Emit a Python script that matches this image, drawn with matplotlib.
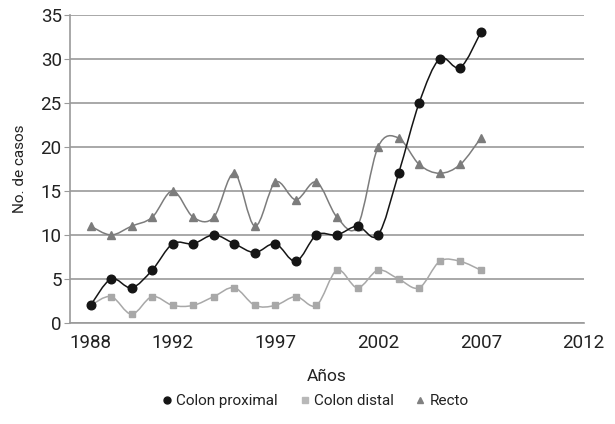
import matplotlib.pyplot as plt
from matplotlib.path import Path
from matplotlib.patches import PathPatch
from matplotlib.lines import Line2D

plt.rcParams['font.family'] = ['Roboto', 'DejaVu Sans']

years = list(range(1988, 2008))
proximal = [2, 5, 4, 6, 9, 9, 10, 9, 8, 9, 7, 10, 10, 11, 10, 17, 25, 30, 29, 33]
distal = [2, 3, 1, 3, 2, 2, 3, 4, 2, 2, 3, 2, 6, 4, 6, 5, 4, 7, 7, 6]
recto = [11, 10, 11, 12, 15, 12, 12, 17, 11, 16, 14, 16, 12, 11, 20, 21, 18, 17, 18, 21]
xticks = [1988, 1992, 1997, 2002, 2007, 2012]


def smooth_path(xs, ys):
    # cubic bezier through every point (spreadsheet-style smoothed line)
    pts = list(zip(xs, ys))
    verts = [pts[0]]
    codes = [Path.MOVETO]
    n = len(pts)
    for i in range(n - 1):
        p0 = pts[i - 1] if i > 0 else pts[i]
        p1 = pts[i]
        p2 = pts[i + 1]
        p3 = pts[i + 2] if i + 2 < n else pts[i + 1]
        c1 = (p1[0] + (p2[0] - p0[0]) / 6, p1[1] + (p2[1] - p0[1]) / 6)
        c2 = (p2[0] - (p3[0] - p1[0]) / 6, p2[1] - (p3[1] - p1[1]) / 6)
        verts += [c1, c2, p2]
        codes += [Path.CURVE4] * 3
    return Path(verts, codes)


fig = plt.figure(figsize=(6.15, 4.24), dpi=100)
ax = fig.add_axes([0.1138, 0.2382, 0.835, 0.727])

series = [
    (recto, '#7c7c7c', '^', 5.5, 'Recto'),
    (distal, '#a8a8a8', 's', 5, 'Colon distal'),
    (proximal, '#151515', 'o', 6.2, 'Colon proximal'),
]
for vals, col, mk, ms, name in series:
    ax.add_patch(PathPatch(smooth_path(years, vals), facecolor='none',
                           edgecolor=col, lw=1.1, zorder=3))
    ax.plot(years, vals, ls='none', marker=mk, ms=ms, color=col, zorder=4)

ax.set_xlim(1987, 2012)
ax.set_ylim(0, 35)
ax.set_yticks(range(0, 36, 5))
ax.set_xticks(xticks)
ax.grid(axis='y', color='#9a9a9a', lw=1.2)
ax.set_axisbelow(True)
for s in ['top', 'right']:
    ax.spines[s].set_visible(False)
ax.spines['left'].set_color('#9a9a9a')
ax.spines['bottom'].set_color('#9a9a9a')
ax.spines['left'].set_linewidth(1.2)
ax.spines['bottom'].set_linewidth(1.2)
ax.tick_params(axis='y', length=4, color='#9a9a9a', labelsize=13.5, pad=2,
               labelcolor='#222222')
ax.tick_params(axis='x', length=0, labelsize=13.5, pad=8, labelcolor='#222222')
ax.set_xlabel('Años', fontsize=12.5, color='#222222', labelpad=12)
ax.set_ylabel('No. de casos', fontsize=11, color='#222222', labelpad=10)

handles = [
    Line2D([], [], ls='none', marker='o', ms=5, color='#151515'),
    Line2D([], [], ls='none', marker='s', ms=4.5, color='#b8b8b8'),
    Line2D([], [], ls='none', marker='^', ms=4.5, color='#808080'),
]
fig.legend(handles, ['Colon proximal', 'Colon distal', 'Recto'],
           loc='center', bbox_to_anchor=(0.513, 0.054), ncol=3, frameon=False,
           fontsize=11, handlelength=0.6, handletextpad=0.3, columnspacing=1.45,
           labelcolor='#222222')

fig.savefig('out.png', dpi=100)
